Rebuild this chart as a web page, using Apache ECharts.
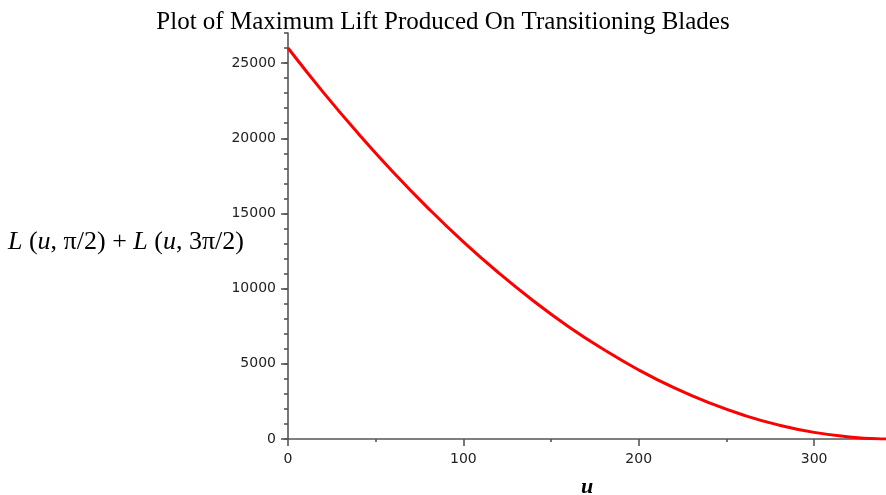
<!DOCTYPE html>
<html>
<head>
<meta charset="utf-8">
<script src="https://cdn.jsdelivr.net/npm/echarts@6/dist/echarts.min.js"></script>
<style>
  html, body { margin: 0; padding: 0; background: #fff; }
  #chart { width: 886px; height: 495px; }
</style>
</head>
<body>
<div id="chart"></div>
<script>
// Blade speed u and summed lift L(u, π/2) + L(u, 3π/2)
const uValues = [0, 20, 40, 60, 80, 100, 120, 140, 160, 180, 200, 220, 240, 260, 280, 300, 320, 340, 341];
const liftValues = [26000, 23070, 20320, 17740, 15340, 13110, 11060, 9180, 7470, 5950, 4590, 3410, 2410, 1580, 920, 440, 140, 5, 3];

const xMajorTicks = [0, 100, 200, 300];
const xMinorTicks = [50, 150, 250];
const yMajorTicks = [0, 5000, 10000, 15000, 20000, 25000];

const titleText = 'Plot of Maximum Lift Produced On Transitioning Blades';
const xName = 'u';

const axisColor = '#555';
const labelFont = { fontFamily: 'DejaVu Sans', fontSize: 14, color: '#222' };
const plainNumber = v => String(v);

const chart = echarts.init(document.getElementById('chart'), null, { renderer: 'canvas' });

chart.setOption({
  animation: false,
  backgroundColor: '#fff',
  title: {
    text: titleText,
    left: 'center',
    top: 5,
    textStyle: { fontFamily: 'Liberation Serif', fontSize: 25, fontWeight: 'normal', color: '#000' }
  },
  grid: { left: 288, right: 0, top: 33, bottom: 56, containLabel: false, outerBoundsMode: 'none' },
  xAxis: [
    {
      type: 'value', min: 0, max: 341, interval: 100,
      axisLine: { lineStyle: { color: axisColor, width: 1.6 } },
      axisTick: { customValues: xMajorTicks, length: 7, lineStyle: { color: axisColor, width: 1.6 } },
      axisLabel: Object.assign({ customValues: xMajorTicks, margin: 13, formatter: plainNumber }, labelFont),
      splitLine: { show: false }
    },
    {
      type: 'value', min: 0, max: 341, interval: 50, position: 'bottom',
      axisLine: { show: false },
      axisTick: { customValues: xMinorTicks, length: 3, lineStyle: { color: axisColor, width: 1.6 } },
      axisLabel: { show: false },
      splitLine: { show: false }
    }
  ],
  yAxis: [
    {
      type: 'value', min: 0, max: 27000, interval: 5000,
      axisLine: { show: true, lineStyle: { color: axisColor, width: 1.6 } },
      axisTick: { show: true, customValues: yMajorTicks, length: 7, lineStyle: { color: axisColor, width: 1.6 } },
      axisLabel: Object.assign({ customValues: yMajorTicks, margin: 12, formatter: plainNumber }, labelFont),
      splitLine: { show: false }
    },
    {
      type: 'value', min: 0, max: 27000, interval: 1000, position: 'left',
      axisLine: { show: false },
      axisTick: { show: true, length: 4, lineStyle: { color: axisColor, width: 1.6 } },
      axisLabel: { show: false },
      splitLine: { show: false }
    }
  ],
  graphic: [
    {
      type: 'text', left: 8, top: 229,
      style: {
        text: '{i|L}{n| (}{i|u}{n|, π/2) + }{i|L}{n| (}{i|u}{n|, 3π/2)}',
        rich: {
          i: { fontFamily: 'Liberation Serif', fontStyle: 'italic', fontSize: 26, fill: '#000' },
          n: { fontFamily: 'Liberation Serif', fontSize: 26, fill: '#000' }
        }
      }
    },
    {
      type: 'text', x: 587, y: 487,
      style: {
        text: xName,
        align: 'center', verticalAlign: 'middle',
        fontFamily: 'Liberation Serif', fontStyle: 'italic', fontWeight: 'bold', fontSize: 22, fill: '#000'
      }
    }
  ],
  series: [
    {
      type: 'line',
      data: uValues.map((u, i) => [u, liftValues[i]]),
      smooth: true,
      symbol: 'none',
      clip: true,
      lineStyle: { color: '#ff0000', width: 3 },
      z: 5
    }
  ]
});
</script>
</body>
</html>
